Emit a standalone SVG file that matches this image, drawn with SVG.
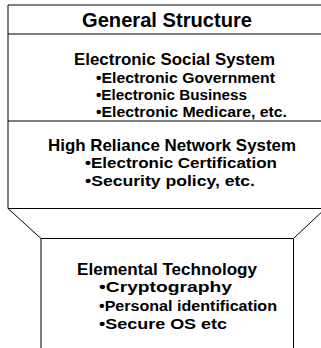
<svg xmlns="http://www.w3.org/2000/svg" width="321" height="348" viewBox="0 0 321 348">
<style>
  .ln{stroke:#000;stroke-width:1;fill:none}
  .t{font-family:"Liberation Sans",Arial,sans-serif;font-weight:bold;fill:#000}
  .h0{font-size:20px}
  .h{font-size:17px}
  .b{font-size:14.5px}
</style>
<rect width="321" height="348" fill="#fff"/>
<g id="general-structure">
  <path class="ln" d="M330 5H8V34H330"/>
  <text class="t h0" x="82" y="27" textLength="170" lengthAdjust="spacingAndGlyphs">General Structure</text>
</g>
<g id="electronic-social-system">
  <path class="ln" d="M8 34V121H330"/>
  <text class="t h" x="74" y="65" textLength="201" lengthAdjust="spacingAndGlyphs">Electronic Social System</text>
  <text class="t b" x="96" y="82.5" textLength="179" lengthAdjust="spacingAndGlyphs">•Electronic Government</text>
  <text class="t b" x="96" y="100" textLength="151" lengthAdjust="spacingAndGlyphs">•Electronic Business</text>
  <text class="t b" x="96" y="117" textLength="191" lengthAdjust="spacingAndGlyphs">•Electronic Medicare, etc.</text>
</g>
<g id="high-reliance-network-system">
  <path class="ln" d="M8 121V208.5H330"/>
  <text class="t h" x="48" y="151" textLength="248" lengthAdjust="spacingAndGlyphs">High Reliance Network System</text>
  <text class="t b" x="85" y="168" textLength="192" lengthAdjust="spacingAndGlyphs">•Electronic Certification</text>
  <text class="t b" x="85" y="186" textLength="170" lengthAdjust="spacingAndGlyphs">•Security policy, etc.</text>
</g>
<g id="connectors">
  <path class="ln" d="M8 208.5L41 238.5"/>
  <path class="ln" d="M327 207L293.5 238.5"/>
</g>
<g id="elemental-technology">
  <path class="ln" d="M41 350V238.5H293.5V350"/>
  <text class="t h" x="77" y="274.5" textLength="180" lengthAdjust="spacingAndGlyphs">Elemental Technology</text>
  <text class="t b" x="99" y="292" textLength="133" lengthAdjust="spacingAndGlyphs">•Cryptography</text>
  <text class="t b" x="99" y="310.5" textLength="178" lengthAdjust="spacingAndGlyphs">•Personal identification</text>
  <text class="t b" x="99" y="329" textLength="128" lengthAdjust="spacingAndGlyphs">•Secure OS etc</text>
</g>
</svg>
